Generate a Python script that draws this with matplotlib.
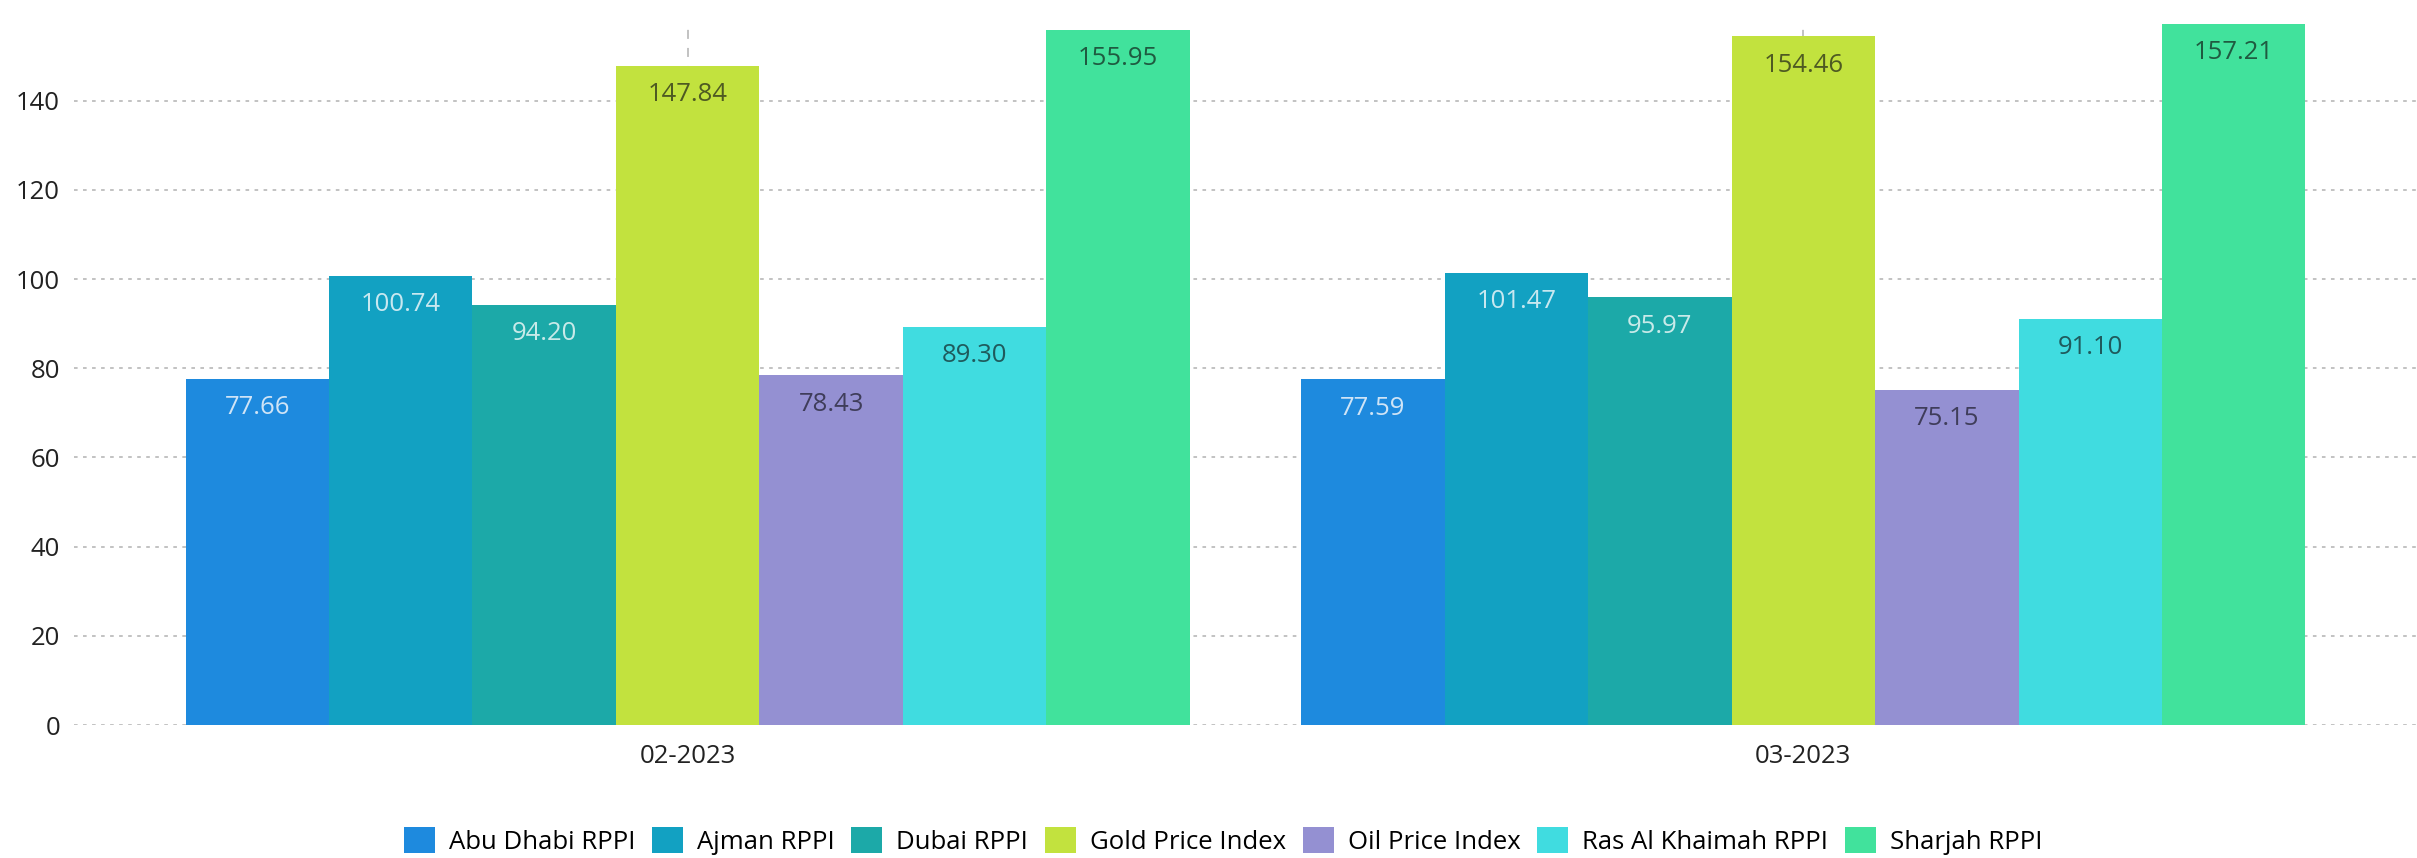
import numpy as np
import matplotlib
matplotlib.use("Agg")
import matplotlib.pyplot as plt

plt.rcParams['font.family'] = ['Open Sans', 'DejaVu Sans']

categories = ['02-2023', '03-2023']
series = ['Abu Dhabi RPPI', 'Ajman RPPI', 'Dubai RPPI', 'Gold Price Index',
          'Oil Price Index', 'Ras Al Khaimah RPPI', 'Sharjah RPPI']
values = [
    [77.66, 77.59],
    [100.74, 101.47],
    [94.20, 95.97],
    [147.84, 154.46],
    [78.43, 75.15],
    [89.30, 91.10],
    [155.95, 157.21],
]
colors = ['#1E8ADE', '#12A1C2', '#1CA9A8', '#C2E23E', '#9490D2', '#40DCE0', '#41E29C']
label_colors = ['#CFE4F6', '#C8E8F0', '#C8EAE9', '#4E5A22', '#3F3D5A', '#1F5A5C', '#1F5A40']

fig = plt.figure(figsize=(24.17, 8.58), dpi=100)
ax = fig.add_axes([0.0306, 0.155, 0.9694, 0.818])

x = np.arange(len(categories))
n = len(series)
group_w = 0.9
w = group_w / n

for i, (name, vals) in enumerate(zip(series, values)):
    pos = x - group_w / 2 + w * (i + 0.5)
    bars = ax.bar(pos, vals, width=w, color=colors[i], label=name, zorder=2)
    for b, v in zip(bars, vals):
        ax.text(b.get_x() + b.get_width() / 2, v - 6.5, '{:.2f}'.format(v),
                ha='center', va='center', fontsize=18.5, color=label_colors[i], zorder=3)

ax.set_xlim(-0.55, 1.55)
ax.set_ylim(0, 157.4)
ax.set_yticks(np.arange(0, 141, 20))
ax.set_xticks(x)
ax.set_xticklabels(categories)

ax.grid(axis='y', color='#BDBDBD', linestyle=(0, (2, 3)), linewidth=1.3, zorder=0)
ax.grid(axis='x', color='#BDBDBD', linestyle=(0, (5, 5)), linewidth=1.3, zorder=0)
for s in ax.spines.values():
    s.set_visible(False)
ax.tick_params(axis='both', length=0, labelsize=18.5, colors='#222222', pad=10)
ax.tick_params(axis='x', pad=14)

fig.legend(*ax.get_legend_handles_labels(), loc='center', bbox_to_anchor=(0.506, 0.02),
           ncol=7, frameon=False, fontsize=18.5, handlelength=1.2, handleheight=1.2,
           handletextpad=0.55, columnspacing=0.65)

fig.savefig('out.png', dpi=100)
